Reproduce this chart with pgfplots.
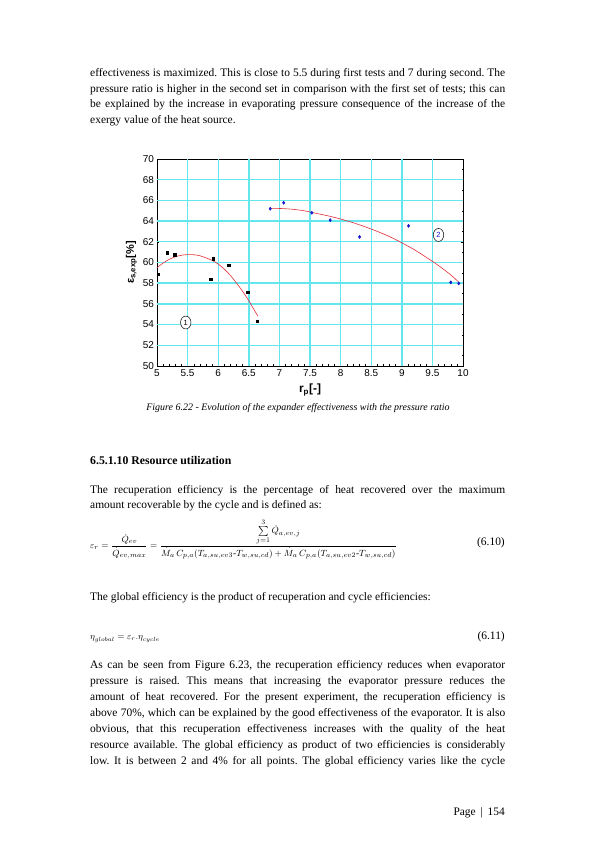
\documentclass[border=0pt]{standalone}
\usepackage{fontspec}
\setmainfont{Liberation Serif}
\newfontfamily\arial{Liberation Sans}
\usepackage{pgfplots}
\pgfplotsset{compat=1.18}
\usetikzlibrary{shapes.geometric}
\definecolor{gridcyan}{RGB}{100,230,238}
\definecolor{fitred}{RGB}{225,45,55}
\definecolor{ptblue}{RGB}{20,20,205}
\newcommand{\jline}[1]{\makebox[415bp][s]{#1}}
\newcommand{\lline}[1]{\makebox[415bp][l]{#1}}
\frenchspacing
\begin{document}
\begin{tikzpicture}[x=1bp,y=1bp]
\path[use as bounding box, fill=white] (0,0) rectangle (595,842);
\tikzset{txt/.style={anchor=base west, inner sep=0pt, font=\fontsize{11.5}{13}\selectfont}}
% paragraph 1
\node[txt] at (90,842-77) {\jline{effectiveness is maximized. This is close to 5.5 during first tests and 7 during second. The}};
\node[txt] at (90,842-92.5) {\jline{pressure ratio is higher in the second set in comparison with the first set of tests; this can}};
\node[txt] at (90,842-108) {\jline{be explained by the increase in evaporating pressure consequence of the increase of the}};
\node[txt] at (90,842-123.5) {\lline{exergy value of the heat source.}};

\begin{axis}[
  at={(157bp,476bp)}, anchor=south west,
  width=306bp, height=207bp, scale only axis,
  xmin=5, xmax=10, ymin=50, ymax=70,
  xtick={5,5.5,6,6.5,7,7.5,8,8.5,9,9.5,10}, ytick={50,52,54,56,58,60,62,64,66,68,70},
  xticklabels={5,5.5,6,6.5,7,7.5,8,8.5,9,9.5,10},
  minor x tick num=4, minor y tick num=1,
  tick align=inside, major tick length=2.5pt, minor tick length=1.5pt,
  extra x ticks={5.5,6,6.5,7,7.5,8,8.5,9,9.5},
  extra x tick labels={},
  extra y ticks={52,54,56,58,60,62,64,66,68},
  extra y tick labels={},
  extra x tick style={xmajorgrids=true, major tick length=0pt},
  extra y tick style={ymajorgrids=true, major tick length=0pt},
  grid style={gridcyan, line width=1.4bp},
  major grid style={gridcyan, line width=1.4bp},
  axis line style={black, line width=0.9pt},
  major tick style={black, line width=0.4pt},
  minor tick style={black, line width=0.4pt},
  ticklabel style={font=\arial\fontsize{10}{11}\selectfont},
  /pgf/number format/assume math mode=true,
  xticklabel style={yshift=-0.5pt},
  yticklabel style={xshift=0.5pt},
  xlabel={\arial\bfseries\fontsize{12}{13}\selectfont r\textsubscript{p}[-]},
  xlabel style={yshift=0pt},
  ylabel={\arial\bfseries\fontsize{11}{12}\selectfont ε\textsubscript{s,exp}[\%]},
  ylabel style={yshift=-1pt},
  clip=false,
]
% fit curves
\addplot[fitred, line width=0.6pt, smooth] coordinates {
 (5.0,59.5) (5.1,59.95) (5.2,60.3) (5.3,60.55) (5.4,60.7) (5.5,60.76) (5.6,60.75)
 (5.7,60.65) (5.8,60.45) (5.9,60.2) (6.0,59.85) (6.1,59.35) (6.2,58.75) (6.3,58.0)
 (6.4,57.2) (6.5,56.3) (6.6,55.3) (6.65,54.8)};
\addplot[fitred, line width=0.6pt, smooth] coordinates {
 (6.85,65.22) (7.0,65.22) (7.2,65.15) (7.4,65.0) (7.6,64.75) (7.8,64.5) (8.0,64.2)
 (8.2,63.85) (8.4,63.45) (8.6,63.0) (8.8,62.5) (9.0,61.9) (9.2,61.25) (9.4,60.5)
 (9.6,59.7) (9.8,58.8) (9.93,58.1)};
% data
\addplot[only marks, mark=square*, mark size=1.2pt, black] coordinates {
 (5.02,58.85) (5.17,60.95) (5.29,60.76) (5.88,58.37) (5.92,60.37) (6.17,59.73) (6.48,57.1) (6.64,54.3)};
\addplot[only marks, mark=diamond*, mark size=1.6pt, ptblue, mark options={draw=ptblue, fill=ptblue}] coordinates {
 (6.85,65.19) (7.07,65.77) (7.53,64.8) (7.83,64.09) (8.31,62.47) (9.11,63.54) (9.80,58.08) (9.93,57.98)};
\node[draw, ellipse, inner xsep=1.6pt, inner ysep=2pt, line width=0.5pt, font=\arial\fontsize{7.5}{8}\selectfont, fill=white] at (axis cs:5.47,54.2) {1};
\node[draw, ellipse, inner xsep=1.6pt, inner ysep=2pt, line width=0.5pt, font=\arial\fontsize{7.5}{8}\selectfont, text=ptblue, fill=white] at (axis cs:9.6,62.66) {2};
\end{axis}

% caption
\node[anchor=base, inner sep=0pt, font=\fontsize{10}{12}\selectfont\itshape] at (298,842-411) {Figure 6.22 - Evolution of the expander effectiveness with the pressure ratio};
% heading
\node[txt, font=\fontsize{11.8}{13}\selectfont\bfseries] at (90,842-464.5) {6.5.1.10 Resource utilization};
% paragraph 2
\node[txt] at (90,842-493.5) {\jline{The recuperation efficiency is the percentage of heat recovered over the maximum}};
\node[txt] at (90,842-509) {\lline{amount recoverable by the cycle and is defined as:}};
% equation 6.10
\node[anchor=west, inner sep=0pt, font=\fontsize{9.5}{11}\selectfont] at (90,842-539) {$\displaystyle \varepsilon_r=\frac{\dot{Q}_{ev}}{\dot{Q}_{ev,max}}=\frac{\sum\limits_{j=1}^{3}\dot{Q}_{a,ev,j}}{\dot{M}_a\,C_{p,a}(T_{a,su,ev3}\mbox{-}T_{w,su,cd})+\dot{M}_a\,C_{p,a}(T_{a,su,ev2}\mbox{-}T_{w,su,cd})}$};
\node[anchor=base east, inner sep=0pt, font=\fontsize{11.5}{13}\selectfont] at (505,842-546) {(6.10)};
% paragraph 3
\node[txt] at (90,842-600.5) {The global efficiency is the product of recuperation and cycle efficiencies:};
% equation 6.11
\node[anchor=base west, inner sep=0pt, font=\fontsize{9}{10}\selectfont] at (90,842-640) {$\eta_{global}=\varepsilon_r.\eta_{cycle}$};
\node[anchor=base east, inner sep=0pt, font=\fontsize{11.5}{13}\selectfont] at (505,842-640) {(6.11)};
% paragraph 4
\node[txt] at (90,842-668.5) {\jline{As can be seen from Figure 6.23, the recuperation efficiency reduces when evaporator}};
\node[txt] at (90,842-684.5) {\jline{pressure is raised. This means that increasing the evaporator pressure reduces the}};
\node[txt] at (90,842-700.5) {\jline{amount of heat recovered. For the present experiment, the recuperation efficiency is}};
\node[txt] at (90,842-716.5) {\jline{above 70\%, which can be explained by the good effectiveness of the evaporator. It is also}};
\node[txt] at (90,842-732.5) {\jline{obvious, that this recuperation effectiveness increases with the quality of the heat}};
\node[txt] at (90,842-748.5) {\jline{resource available. The global efficiency as product of two efficiencies is considerably}};
\node[txt] at (90,842-764.5) {\jline{low. It is between 2 and 4\% for all points. The global efficiency varies like the cycle}};
% footer
\node[anchor=base east, inner sep=0pt, font=\fontsize{11.5}{13}\selectfont] at (505,842-815.5) {Page \,|\, 154};
\end{tikzpicture}
\end{document}
